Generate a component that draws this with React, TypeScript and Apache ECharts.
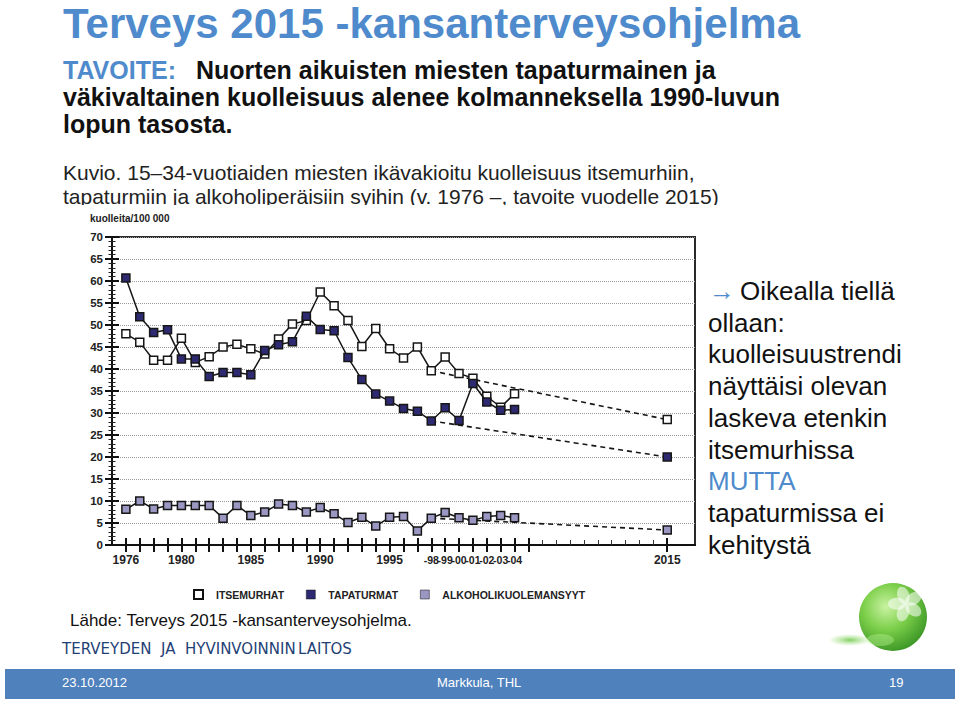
import React, { useEffect, useRef } from 'react';
import * as echarts from 'echarts';

// ---------- data ----------
const axisYears: string[] = [];
for (let y = 1975; y <= 2017; y++) axisYears.push(String(y));

const observedYears = [
  1976, 1977, 1978, 1979, 1980, 1981, 1982, 1983, 1984, 1985,
  1986, 1987, 1988, 1989, 1990, 1991, 1992, 1993, 1994, 1995,
  1996, 1997, 1998, 1999, 2000, 2001, 2002, 2003, 2004,
];
const suicides = [
  48, 46.1, 42, 42, 47, 41.5, 42.8, 45, 45.6, 44.6,
  43.4, 46.8, 50.2, 51, 57.5, 54.4, 51, 45.1, 49.2, 44.6,
  42.5, 45, 39.6, 42.7, 39, 37.9, 33.8, 31.3, 34.4,
];
const accidents = [
  60.7, 51.9, 48.3, 48.9, 42.3, 42.3, 38.3, 39.2, 39.2, 38.7,
  44.2, 45.5, 46.2, 52.0, 49.0, 48.7, 42.6, 37.6, 34.3, 32.7,
  31.0, 30.4, 28.2, 31.2, 28.3, 36.7, 32.5, 30.6, 30.8,
];
const alcohol = [
  8.1, 10.0, 8.2, 9.0, 9.0, 9.0, 9.0, 6.1, 9.0, 6.7,
  7.5, 9.3, 9.0, 7.5, 8.5, 7.1, 5.1, 6.3, 4.3, 6.3,
  6.5, 3.2, 6.1, 7.4, 6.2, 5.6, 6.5, 6.7, 6.2,
];
const trendStartYear = 1998;
const targetYear = 2015;
const suicidesTrend = [39.6, 28.5];
const accidentsTrend = [28.2, 20];
const alcoholTrend = [6.1, 3.4];

const seriesNames = ['ITSEMURHAT', 'TAPATURMAT', 'ALKOHOLIKUOLEMANSYYT'];
const xLabelYears = ['1976', '1980', '1985', '1990', '1995', '1998', '1999', '2000', '2001', '2002', '2003', '2004', '2015'];
const majorTickYears = [
  '1976', '1977', '1978', '1979', '1980', '1981', '1982', '1983', '1984', '1985',
  '1986', '1987', '1988', '1989', '1990', '1991', '1992', '1993', '1994', '1995',
  '1996', '1997', '1998', '1999', '2000', '2001', '2002', '2003', '2004', '2005', '2015',
];
const minorTickYears = ['2006', '2007', '2008', '2009', '2010', '2011', '2012', '2013', '2014'];
const shortLabelYears = ['1998', '1999', '2000', '2001', '2002', '2003', '2004'];

// ---------- styles ----------
const BLUE = '#4f8bcc';
const SANS = "'Liberation Sans', Arial, sans-serif";
const NARROW = "'Liberation Sans Narrow', 'Arial Narrow', 'Liberation Sans', sans-serif";
const LINE = '#161616';
const fills = ['#ffffff', '#2e2a72', '#9a97c2'];

function fullSeries(vals: number[]) {
  return axisYears.map((y) => {
    const i = observedYears.indexOf(Number(y));
    return i >= 0 ? vals[i] : null;
  });
}
function trendSeries(pair: number[]) {
  return axisYears.map((y) => {
    if (Number(y) === trendStartYear) return { value: pair[0], symbol: 'none' };
    if (Number(y) === targetYear) return pair[1];
    return null;
  });
}

function App() {
  const ref = useRef<HTMLDivElement>(null);
  useEffect(() => {
    if (!ref.current) return;
    const chart = echarts.init(ref.current, undefined, { renderer: 'svg' });

    const baseX = {
      type: 'category' as const,
      data: axisYears,
      boundaryGap: false,
      position: 'bottom' as const,
      gridIndex: 0,
      splitLine: { show: false },
    };

    const rightLines = [
      'ollaan:',
      'kuolleisuustrendi',
      'näyttäisi olevan',
      'laskeva etenkin',
      'itsemurhissa',
      'MUTTA',
      'tapaturmissa ei',
      'kehitystä',
    ];
    const rbFirst = 291;
    const rbStep = 31.7;

    const graphics: any[] = [
      // Title
      { type: 'text', x: 63, y: 23.5, style: { text: 'Terveys 2015 -kansanterveysohjelma', font: `bold 42px ${SANS}`, fill: BLUE, verticalAlign: 'middle' } },
      { type: 'text', x: 63, y: 70, style: { text: 'TAVOITE:', font: `bold 25px ${SANS}`, fill: BLUE, verticalAlign: 'middle' } },
      { type: 'text', x: 196, y: 70, style: { text: 'Nuorten aikuisten miesten tapaturmainen ja', font: `bold 25px ${SANS}`, fill: '#111', verticalAlign: 'middle' } },
      { type: 'text', x: 63, y: 97, style: { text: 'väkivaltainen kuolleisuus alenee kolmanneksella 1990-luvun', font: `bold 25px ${SANS}`, fill: '#111', verticalAlign: 'middle' } },
      { type: 'text', x: 63, y: 124, style: { text: 'lopun tasosta.', font: `bold 25px ${SANS}`, fill: '#111', verticalAlign: 'middle' } },
      { type: 'text', x: 63, y: 172.7, style: { text: 'Kuvio. 15–34-vuotiaiden miesten ikävakioitu kuolleisuus itsemurhiin,', font: `21px ${SANS}`, fill: '#222', verticalAlign: 'middle' } },
      { type: 'text', x: 63, y: 196, style: { text: 'tapaturmiin ja alkoholiperäisiin syihin (v. 1976 –, tavoite vuodelle 2015)', font: `21px ${SANS}`, fill: '#222', verticalAlign: 'middle' } },
      { type: 'rect', shape: { x: 55, y: 205, width: 860, height: 30 }, style: { fill: '#fff' } },
      { type: 'text', x: 90, y: 218.5, style: { text: 'kuolleita/100 000', font: `bold 10px ${SANS}`, fill: '#222', verticalAlign: 'middle' } },
      // Right comment block
      { type: 'text', x: 709, y: rbFirst, style: { text: '→', font: `26px ${SANS}`, fill: BLUE, verticalAlign: 'middle' } },
      { type: 'text', x: 740, y: rbFirst, style: { text: 'Oikealla tiellä', font: `26px ${SANS}`, fill: '#111', verticalAlign: 'middle' } },
      ...rightLines.map((t, i) => ({
        type: 'text', x: 708, y: rbFirst + rbStep * (i + 1),
        style: { text: t, font: `26px ${SANS}`, fill: t === 'MUTTA' ? BLUE : '#111', verticalAlign: 'middle' },
      })),
      // Source
      { type: 'text', x: 70, y: 620.8, style: { text: 'Lähde: Terveys 2015 -kansanterveysohjelma.', font: `17px ${SANS}`, fill: '#111', verticalAlign: 'middle' } },
      ...[['TERVEYDEN', 62], ['JA', 161], ['HYVINVOINNIN', 185], ['LAITOS', 298]].map(([t, x]) => ({
        type: 'text', x: x as number, y: 649,
        style: { text: t as string, font: `15px 'DejaVu Sans', sans-serif`, fill: '#1f3f75', verticalAlign: 'middle' },
      })),
      // Logo
      { type: 'ellipse', shape: { cx: 850, cy: 640, rx: 22, ry: 6 },
        style: { fill: new echarts.graphic.RadialGradient(0.5, 0.5, 0.5, [
          { offset: 0, color: 'rgba(90,190,50,0.75)' },
          { offset: 1, color: 'rgba(140,220,100,0)' },
        ]) } },
      { type: 'circle', shape: { cx: 893, cy: 617, r: 34 },
        style: { fill: new echarts.graphic.RadialGradient(0.4, 0.35, 0.75, [
          { offset: 0, color: '#c9f2a2' },
          { offset: 0.45, color: '#7ccf4a' },
          { offset: 1, color: '#2f8b1e' },
        ]) } },
      {
        type: 'group', x: 906, y: 604,
        children: [0, 1, 2, 3, 4].map((k) => ({
          type: 'group', rotation: (k * 2 * Math.PI) / 5 + 0.3,
          children: [{ type: 'ellipse', shape: { cx: 0, cy: -9, rx: 6, ry: 9 }, style: { fill: 'rgba(255,255,255,0.55)' } }],
        })),
      },
      { type: 'ellipse', shape: { cx: 880, cy: 640, rx: 14, ry: 6 }, style: { fill: 'rgba(200,255,160,0.35)' } },
      // Footer bar
      { type: 'rect', shape: { x: 5, y: 669, width: 950, height: 30 }, style: { fill: '#4f81bd' } },
      { type: 'text', x: 62, y: 682.8, style: { text: '23.10.2012', font: `13px ${SANS}`, fill: '#fff', verticalAlign: 'middle' } },
      { type: 'text', x: 437, y: 682.8, style: { text: 'Markkula, THL', font: `13px ${SANS}`, fill: '#fff', verticalAlign: 'middle' } },
      { type: 'text', x: 889, y: 682.8, style: { text: '19', font: `13px ${SANS}`, fill: '#fff', verticalAlign: 'middle' } },
    ];

    const symbolStyle = (i: number) => ({ color: fills[i], borderColor: LINE, borderWidth: 1.5 });

    const option: any = {
      animation: false,
      backgroundColor: '#fff',
      grid: {
        left: 112, right: 265, top: 237, bottom: 156,
        show: true, borderColor: '#2a2a2a', borderWidth: 2, backgroundColor: 'transparent',
      },
      legend: {
        left: 188, top: 584,
        itemWidth: 9, itemHeight: 9, itemGap: 22,
        icon: 'rect',
        textStyle: { fontFamily: SANS, fontWeight: 'bold', fontSize: 10.5, color: '#222', padding: [0, 0, 0, 8] },
        data: seriesNames.map((n, i) => ({ name: n, itemStyle: { color: fills[i], borderColor: '#111', borderWidth: i === 0 ? 2 : 0.5 } })),
      },
      xAxis: [
        {
          ...baseX,
          axisLine: { show: true, lineStyle: { color: '#111', width: 2 } },
          axisTick: { show: true, inside: false, length: 7, lineStyle: { color: '#111', width: 2 },
            interval: (_i: number, v: string) => majorTickYears.includes(v) },
          axisLabel: {
            show: true, margin: 9, fontFamily: NARROW, fontWeight: 'bold', fontSize: 12, color: '#222',
            interval: (_i: number, v: string) => xLabelYears.includes(v),
            formatter: (v: string) => (shortLabelYears.includes(v) ? '{s|-' + v.slice(2) + '}' : v),
            rich: { s: { fontFamily: NARROW, fontWeight: 'bold', fontSize: 10.5, color: '#222' } },
          },
        },
        {
          ...baseX,
          axisLine: { show: false },
          axisTick: { show: true, inside: true, length: 7, lineStyle: { color: '#111', width: 2 },
            interval: (_i: number, v: string) => majorTickYears.includes(v) },
          axisLabel: { show: false },
        },
        {
          ...baseX,
          axisLine: { show: false },
          axisTick: { show: true, inside: true, length: 5, lineStyle: { color: '#333', width: 1 },
            interval: (_i: number, v: string) => minorTickYears.includes(v) },
          axisLabel: { show: false },
        },
      ],
      yAxis: [
        {
          type: 'value', min: 0, max: 70, interval: 5, position: 'left',
          axisLine: { show: true, lineStyle: { color: '#111', width: 2 } },
          axisTick: { show: true, inside: false, length: 7, lineStyle: { color: '#111', width: 2 } },
          minorTick: { show: true, splitNumber: 5, length: 3.5, lineStyle: { color: '#222', width: 1 } },
          axisLabel: { margin: 9, fontFamily: NARROW, fontWeight: 'bold', fontSize: 11.5, color: '#222' },
          splitLine: { show: true, lineStyle: { color: '#9a9a9a', width: 1, type: [1, 1] } },
        },
        {
          type: 'value', min: 0, max: 70, interval: 5, position: 'left',
          axisLine: { show: false },
          axisTick: { show: true, inside: true, length: 7, lineStyle: { color: '#111', width: 2 } },
          minorTick: { show: true, splitNumber: 5, length: 3.5, lineStyle: { color: '#222', width: 1 } },
          axisLabel: { show: false },
          splitLine: { show: false },
        },
      ],
      series: [
        {
          name: 'trend-a', type: 'line', data: trendSeries(alcoholTrend), connectNulls: true,
          symbol: 'rect', symbolSize: 8, itemStyle: symbolStyle(2),
          lineStyle: { color: LINE, width: 1.6, type: [5, 4] }, z: 1,
        },
        {
          name: 'trend-s', type: 'line', data: trendSeries(suicidesTrend), connectNulls: true,
          symbol: 'rect', symbolSize: 8, itemStyle: symbolStyle(0),
          lineStyle: { color: LINE, width: 1.6, type: [5, 4] }, z: 1,
        },
        {
          name: 'trend-t', type: 'line', data: trendSeries(accidentsTrend), connectNulls: true,
          symbol: 'rect', symbolSize: 8, itemStyle: symbolStyle(1),
          lineStyle: { color: LINE, width: 1.6, type: [5, 4] }, z: 1,
        },
        {
          name: seriesNames[2], type: 'line', data: fullSeries(alcohol),
          symbol: 'rect', symbolSize: 8, showAllSymbol: true, itemStyle: symbolStyle(2),
          lineStyle: { color: LINE, width: 1.5 }, z: 2,
        },
        {
          name: seriesNames[0], type: 'line', data: fullSeries(suicides),
          symbol: 'rect', symbolSize: 8, showAllSymbol: true, itemStyle: symbolStyle(0),
          lineStyle: { color: LINE, width: 1.5 }, z: 3,
        },
        {
          name: seriesNames[1], type: 'line', data: fullSeries(accidents),
          symbol: 'rect', symbolSize: 8, showAllSymbol: true, itemStyle: symbolStyle(1),
          lineStyle: { color: LINE, width: 1.5 }, z: 4,
        },
      ],
      graphic: { elements: graphics },
    };

    chart.setOption(option);
    return () => chart.dispose();
  }, []);

  return (
    <div
      ref={ref}
      style={{ position: 'absolute', left: 0, top: 0, width: 960, height: 701, background: '#fff' }}
    />
  );
}

export default App;
